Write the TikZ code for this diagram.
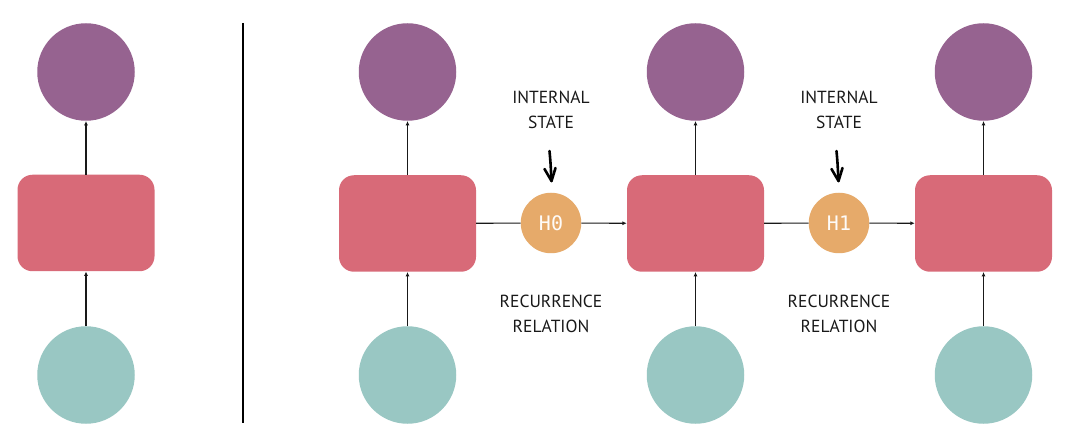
\documentclass[tikz,border=0pt]{standalone}
\usepackage{fontspec}
\setmainfont{PT Sans}
\newfontfamily\monofont{DejaVu Sans Mono}
\usetikzlibrary{arrows.meta}
\definecolor{outc}{HTML}{966390}
\definecolor{cellc}{HTML}{D86A78}
\definecolor{inc}{HTML}{99C7C3}
\definecolor{hidc}{HTML}{E6AA6A}
\begin{document}
\begin{tikzpicture}[x=1pt,y=-1pt,
  outnode/.style={circle,fill=outc,minimum size=97.5pt,inner sep=0pt},
  innode/.style={circle,fill=inc,minimum size=97.5pt,inner sep=0pt},
  cellnode/.style={rectangle,rounded corners=15pt,fill=cellc,minimum width=137pt,minimum height=96.5pt,inner sep=0pt},
  hidnode/.style={circle,fill=hidc,minimum size=60.5pt,inner sep=0pt,text=white!95!hidc,font=\monofont\fontsize{20}{20}\selectfont},
  arr/.style={draw=black!90,line width=1.1pt,-{Latex[length=4.5pt,width=4pt]}},
  plain/.style={draw=black!90,line width=1.1pt},
  lbl/.style={align=center,font=\fontsize{17.5}{25}\selectfont,text=black!90,inner sep=0pt},
  hand/.style={draw=black,line width=2.6pt,line cap=round,line join=round}
]
\useasboundingbox (0,0) rectangle (1071,446);
\fill[white] (0,0) rectangle (1071,446);

% left single cell
\node[outnode] (o0) at (86,72) {};
\node[cellnode] (r0) at (86,223) {};
\node[innode] (x0) at (86,375) {};
\draw[arr] (x0) -- (r0);
\draw[arr] (r0) -- (o0);

% divider
\coordinate (d1) at (243,23);
\coordinate (d2) at (243,423);
\draw[line width=2.2pt,black] (d1) -- (d2);

% unrolled cells
\foreach \i/\cx in {1/407.5,2/695.5,3/983.5}{
  \node[outnode] (o\i) at (\cx,72) {};
  \node[cellnode] (r\i) at (\cx,223.5) {};
  \node[innode] (x\i) at (\cx,375) {};
  \draw[arr] (x\i) -- (r\i);
  \draw[arr] (r\i) -- (o\i);
}

\node[hidnode] (h0) at (551,223) {H0};
\node[hidnode] (h1) at (839,223) {H1};
\draw[plain] (r1) -- (h0);
\draw[arr] (h0) -- (r2);
\draw[plain] (r2) -- (h1);
\draw[arr] (h1) -- (r3);

% labels
\node[lbl] (s0) at (551,110) {INTERNAL\\STATE};
\node[lbl] (s1) at (839,110) {INTERNAL\\STATE};
\node[lbl] (c0) at (551,314) {RECURRENCE\\RELATION};
\node[lbl] (c1) at (839,314) {RECURRENCE\\RELATION};

% hand-drawn arrows
\foreach \j/\hx in {0/551,1/838}{
  \coordinate (a\j) at (\hx-1.5,151);
  \coordinate (b\j) at (\hx+0.5,181);
  \coordinate (l\j) at (\hx-6.5,169);
  \coordinate (m\j) at (\hx+4.5,168);
  \draw[hand] (a\j) .. controls (\hx-0.5,162) .. (b\j);
  \draw[hand] (l\j) -- (b\j) -- (m\j);
}
\end{tikzpicture}
\end{document}
